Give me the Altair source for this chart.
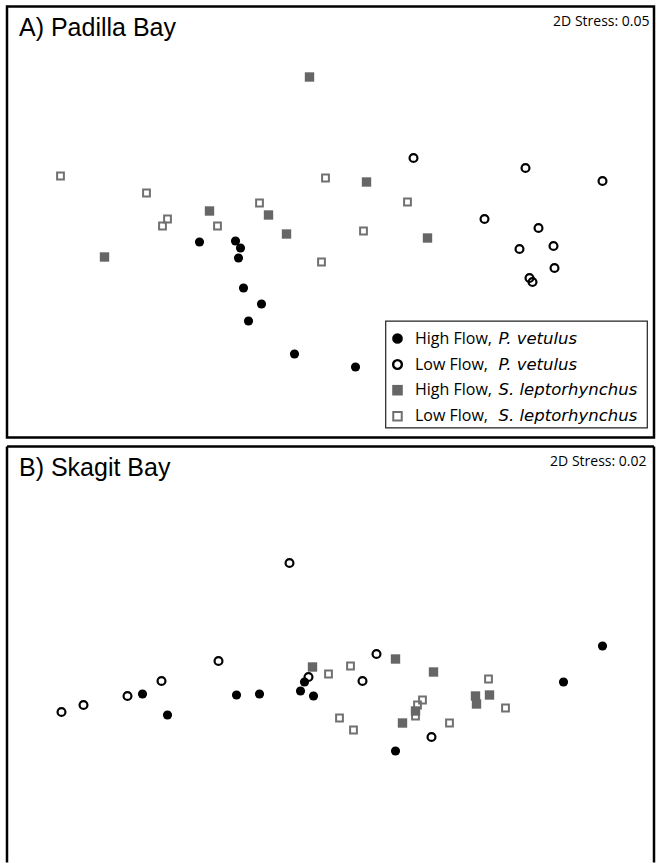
import altair as alt
import pandas as pd

# ---------------- Panel A: Padilla Bay (NMDS coordinates) ----------------
a_hi_pv_x = [-1.31, -0.95, -0.90, -0.92, -0.87, -0.69, -0.82, -0.36, 0.25]
a_hi_pv_y = [-0.20, -0.19, -0.26, -0.36, -0.66, -0.82, -0.99, -1.32, -1.45]

a_lo_pv_x = [0.83, 1.95, 2.72, 1.54, 2.08, 1.89, 2.23, 2.24, 1.99, 2.02]
a_lo_pv_y = [0.64, 0.54, 0.41, 0.03, -0.06, -0.27, -0.24, -0.46, -0.56, -0.60]

a_hi_sl_x = [-0.21, -1.21, -0.62, -0.44, -2.26, 0.36, 0.97]
a_hi_sl_y = [1.45, 0.11, 0.07, -0.12, -0.35, 0.40, -0.16]

a_lo_sl_x = [-2.70, -1.84, -1.63, -1.68, -1.13, -0.71, -0.05, -0.09, 0.77, 0.33]
a_lo_sl_y = [0.46, 0.29, 0.03, -0.04, -0.04, 0.19, 0.44, -0.40, 0.20, -0.09]

# ---------------- Panel B: Skagit Bay (NMDS coordinates) ----------------
b_hi_pv_x = [-1.88, -1.63, -0.94, -0.71, -0.26, -0.30, -0.17, 0.65, 2.72, 2.33]
b_hi_pv_y = [-0.35, -0.56, -0.36, -0.35, -0.23, -0.32, -0.37, -0.92, 0.13, -0.23]

b_lo_pv_x = [-0.41, -2.69, -2.47, -2.03, -1.69, -1.12, -0.22, 0.46, 0.32, 1.01]
b_lo_pv_y = [0.96, -0.53, -0.46, -0.37, -0.22, -0.02, -0.18, 0.05, -0.22, -0.78]

b_hi_sl_x = [-0.18, 0.65, 1.03, 0.85, 0.72, 1.45, 1.46, 1.59]
b_hi_sl_y = [-0.08, 0.00, -0.13, -0.52, -0.64, -0.37, -0.45, -0.36]

b_lo_sl_x = [-0.02, 0.20, 0.09, 0.23, 0.92, 0.87, 0.85, 1.19, 1.58, 1.75]
b_lo_sl_y = [-0.15, -0.07, -0.59, -0.71, -0.41, -0.46, -0.57, -0.64, -0.20, -0.49]

legend_flow = ["High Flow,", "Low Flow,", "High Flow,", "Low Flow,"]
legend_species = ["P. vetulus", "P. vetulus", "S. leptorhynchus", "S. leptorhynchus"]
panel_titles = ["A) Padilla Bay", "B) Skagit Bay"]
stress_labels = ["2D Stress: 0.05", "2D Stress: 0.02"]

W = 647
HA = 431
HB = 416
XDOM = [-3.235, 3.235]
YDOM_A = [-2.155, 2.155]
YDOM_B = [-2.035, 2.125]

STYLES = {
    "hi_pv": dict(shape="circle", filled=True, color="black", size=84, opacity=1, strokeWidth=0),
    "lo_pv": dict(shape="circle", filled=False, color="black", size=62, opacity=1, strokeWidth=2.2),
    "hi_sl": dict(shape="square", filled=True, color="#666666", size=88, opacity=1, strokeWidth=0),
    "lo_sl": dict(shape="square", filled=False, color="#707070", size=46, opacity=1, strokeWidth=2),
}
LEG_STYLES = {
    "hi_pv": dict(shape="circle", filled=True, color="black", size=115, opacity=1, strokeWidth=0),
    "lo_pv": dict(shape="circle", filled=False, color="black", size=76, opacity=1, strokeWidth=2.4),
    "hi_sl": dict(shape="square", filled=True, color="#666666", size=112, opacity=1, strokeWidth=0),
    "lo_sl": dict(shape="square", filled=False, color="#707070", size=72, opacity=1, strokeWidth=2),
}


def scatter(xs, ys, key, ydom):
    df = pd.DataFrame({"x": xs, "y": ys})
    return alt.Chart(df).mark_point(**STYLES[key]).encode(
        x=alt.X("x:Q", scale=alt.Scale(domain=XDOM, nice=False, zero=False), axis=None),
        y=alt.Y("y:Q", scale=alt.Scale(domain=ydom, nice=False, zero=False), axis=None),
    )


def label(text, x, y, **kw):
    return alt.Chart(pd.DataFrame({"t": [text]})).mark_text(**kw).encode(
        x=alt.value(x), y=alt.value(y), text="t:N"
    )


def panel(groups, ydom, height, idx, legend=False, open_bottom=False):
    layers = [scatter(gx, gy, key, ydom) for key, gx, gy in groups]
    layers.append(label(panel_titles[idx], 12, 29.5, font="Liberation Sans", fontSize=25,
                        align="left", baseline="alphabetic", color="black"))
    layers.append(label(stress_labels[idx], 642.5 if idx == 0 else 639.5, 19.5 if idx == 0 else 19,
                        font="Open Sans", fontSize=14, align="right",
                        baseline="alphabetic", color="black"))
    if legend:
        box = alt.Chart(pd.DataFrame({"a": [0]})).mark_rect(
            fill="white", stroke="#222222", strokeWidth=1.2
        ).encode(x=alt.value(378.7), x2=alt.value(640.3), y=alt.value(314.7), y2=alt.value(421.3))
        layers.append(box)
        keys = ["hi_pv", "lo_pv", "hi_sl", "lo_sl"]
        rows_y = [332, 358, 383.7, 409.7]
        for k, ry, fl, sp in zip(keys, rows_y, legend_flow, legend_species):
            sym = alt.Chart(pd.DataFrame({"a": [0]})).mark_point(**LEG_STYLES[k]).encode(
                x=alt.value(390.5), y=alt.value(ry)
            )
            layers.append(sym)
            layers.append(label(fl, 408, ry, font="Open Sans", fontSize=16, align="left",
                                baseline="middle", color="black"))
            layers.append(label(sp, 491.5, ry, font="DejaVu Sans", fontSize=16.5, fontStyle="italic",
                                align="left", baseline="middle", color="black"))
    if open_bottom:
        df1 = pd.DataFrame({"a": [0]})
        layers.append(alt.Chart(df1).mark_rule(color="black", strokeWidth=2.5).encode(
            x=alt.value(0), y=alt.value(0), y2=alt.value(height)))
        layers.append(alt.Chart(df1).mark_rule(color="black", strokeWidth=2.5).encode(
            x=alt.value(W), y=alt.value(0), y2=alt.value(height)))
        layers.append(alt.Chart(df1).mark_rule(color="black", strokeWidth=2.5).encode(
            x=alt.value(0), x2=alt.value(W), y=alt.value(0)))
        ch = alt.layer(*layers).properties(width=W, height=height,
                                           view=alt.ViewConfig(stroke="transparent"))
    else:
        ch = alt.layer(*layers).properties(width=W, height=height,
                                           view=alt.ViewConfig(stroke="black", strokeWidth=2.5))
    return ch


panel_a = panel(
    [("lo_sl", a_lo_sl_x, a_lo_sl_y), ("hi_sl", a_hi_sl_x, a_hi_sl_y),
     ("hi_pv", a_hi_pv_x, a_hi_pv_y), ("lo_pv", a_lo_pv_x, a_lo_pv_y)],
    YDOM_A, HA, 0, legend=True,
)
panel_b = panel(
    [("lo_sl", b_lo_sl_x, b_lo_sl_y), ("hi_sl", b_hi_sl_x, b_hi_sl_y),
     ("hi_pv", b_hi_pv_x, b_hi_pv_y), ("lo_pv", b_lo_pv_x, b_lo_pv_y)],
    YDOM_B, HB, 1, open_bottom=True,
)

chart = alt.vconcat(panel_a, panel_b, spacing=9, bounds="flush").properties(
    padding={"left": 4, "top": 4.5, "right": 0, "bottom": 0},
    background="white",
).configure_view(stroke="black", strokeWidth=2.5)

chart.save("out.html", embed_options={"renderer": "svg", "actions": False})
